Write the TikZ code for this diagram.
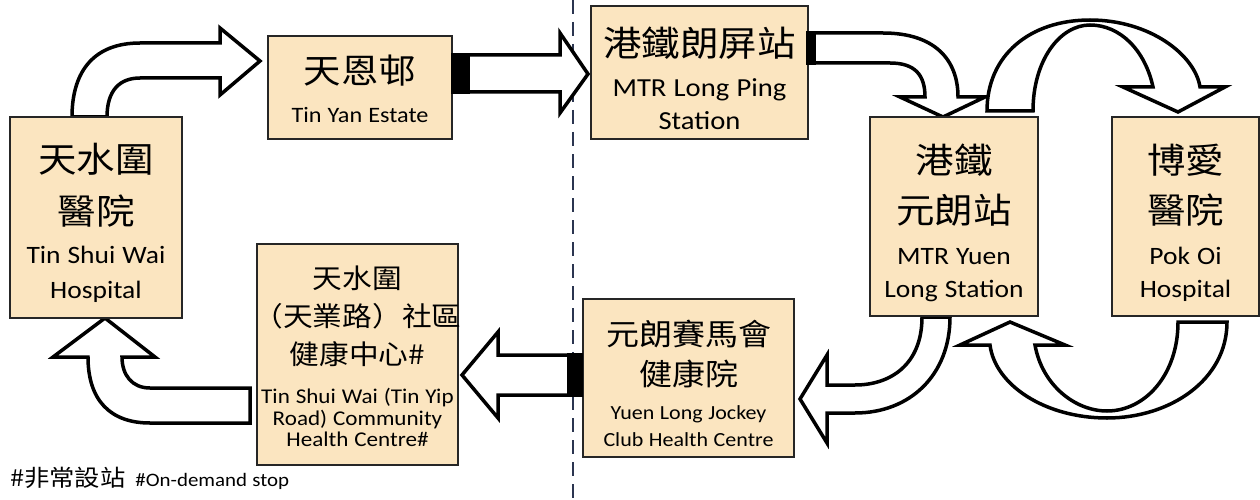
\documentclass[tikz,border=0pt]{standalone}
\usepackage{fontspec}
\setmainfont[FakeStretch=1.1]{Carlito}
\newfontfamily\cjk[FakeStretch=1.1]{Noto Sans CJK TC}
\setlength\parindent{0pt}
\setlength\parskip{0pt}
\definecolor{boxtan}{RGB}{251,229,192}
\definecolor{divider}{RGB}{43,53,80}
\tikzset{
  stopbox/.style={draw=black!85, line width=1.5pt, fill=boxtan, inner sep=0pt},
  blockarrow/.style={draw=black, fill=white, line width=3.5pt},
  stub/.style={fill=black}
}
\newcommand\zh[2]{\cjk\fontsize{#1}{#2}\selectfont}
\newcommand\en[2]{\rmfamily\fontsize{#1}{#2}\selectfont\spaceskip=.28em\relax}
\newcommand\row[1]{\makebox[\hsize][c]{#1}\par}
\newcommand\card[3]{\vbox{\hsize=#1pt\vskip#2pt\relax#3}}
\begin{document}
\begin{tikzpicture}[x=1pt,y=-1pt]
\useasboundingbox (0,0) rectangle (1260,500);
\fill[white] (0,0) rectangle (1260,500);
\draw[divider, line width=2.5pt, dash pattern=on 14pt off 8pt] (573,0) -- (573,500);

\draw[blockarrow] (72,117) .. controls (72,70) and (95,43) .. (140,43) -- (220,43) -- (220,28) -- (260,61) -- (220,95) -- (220,78) -- (140,78) .. controls (120,78) and (107,90) .. (107,117) -- cycle;
\draw[blockarrow] (451,55) -- (560,55) -- (560,33) -- (588,74) -- (560,113) -- (560,92) -- (451,92) -- cycle;
\draw[blockarrow] (808,33) -- (883,33) .. controls (935,33) and (958,60) .. (958,97) -- (985,97) -- (943,117) -- (900,97) -- (925,97) .. controls (925,75) and (915,63) .. (890,63) -- (808,63) -- cycle;
\draw[blockarrow] (987,111) .. controls (987,55) and (1030,20) .. (1090,20) .. controls (1150,20) and (1195,55) .. (1200,87) -- (1225,87) -- (1178,112) -- (1123,87) -- (1153,87) .. controls (1145,50) and (1120,25) .. (1090,25) .. controls (1060,25) and (1033,60) .. (1033,111) -- cycle;
\draw[blockarrow] (1178,322) -- (1227,322) .. controls (1227,380) and (1170,418) .. (1107,418) .. controls (1045,418) and (995,385) .. (990,345) -- (960,345) -- (1010,322) -- (1065,345) -- (1035,345) .. controls (1042,385) and (1075,411) .. (1107,411) .. controls (1145,411) and (1178,375) .. (1178,322) -- cycle;
\draw[blockarrow] (922,317) .. controls (922,365) and (890,385) .. (855,385) -- (827,385) -- (827,355) -- (800,399) -- (827,443) -- (827,413) -- (855,413) .. controls (910,413) and (950,375) .. (950,317) -- cycle;
\draw[blockarrow] (583,355) -- (498,355) -- (498,332) -- (462,375) -- (498,418) -- (498,395) -- (583,395) -- cycle;
\draw[blockarrow] (250,388) -- (150,388) .. controls (132,388) and (122,375) .. (122,357) -- (155,357) -- (105,318) -- (53,357) -- (88,357) .. controls (88,400) and (110,423) .. (150,423) -- (250,423) -- cycle;

\node[stopbox, minimum width=172pt, minimum height=201pt] (tswhosp) at (96,217.5)
  {\card{172}{11}{\zh{35}{52}\row{天水圍}\row{醫院}\en{25}{39}\row{Tin Shui Wai}\en{25}{35}\row{Hospital}}};
\node[stopbox, minimum width=184pt, minimum height=103pt] (tinyan) at (360,87.5)
  {\card{184}{2}{\zh{34}{40}\row{天恩邨}\en{22}{39}\row{Tin Yan Estate}}};
\node[stopbox, minimum width=217pt, minimum height=133pt] (longping) at (699.5,72.5)
  {\card{217}{12}{\zh{35}{40}\row{港鐵朗屏站}\en{26}{40}\row{MTR Long Ping}\en{26}{33}\row{Station}}};
\node[stopbox, minimum width=168pt, minimum height=199pt] (yuenlong) at (954,216.5)
  {\card{168}{13}{\zh{35}{50}\row{港鐵}\row{元朗站}\en{25}{41}\row{MTR Yuen}\en{25}{33}\row{Long Station}}};
\node[stopbox, minimum width=147pt, minimum height=199pt] (pokoi) at (1185.5,216.5)
  {\card{147}{13}{\zh{35}{50}\row{博愛}\row{醫院}\en{25}{41}\row{Pok Oi}\en{25}{33}\row{Hospital}}};
\node[stopbox, minimum width=211pt, minimum height=158pt] (ylclinic) at (688.5,378)
  {\card{211}{11}{\zh{30}{40}\row{元朗賽馬會}\row{健康院}\en{20}{34}\row{Yuen Long Jockey}\en{20}{27}\row{Club Health Centre}}};
\node[stopbox, minimum width=201pt, minimum height=221pt] (tswclinic) at (357.5,354.5)
  {\card{201}{4}{\zh{27}{38}\row{天水圍}\row{（天業路）社區}\row{健康中心\#}%
   \en{21}{39}\row{Tin Shui Wai (Tin Yip}\en{21}{21.5}\row{Road) Community}\row{Health Centre\#}}};

\fill[stub] (451,53) rectangle (470,94);
\fill[stub] (806,31) rectangle (816,65);
\fill[stub] (567,353) rectangle (583,397);

\node[anchor=base west, inner sep=0pt] (note) at (10,486)
  {\zh{23}{23}\#非常設站\hspace{10pt}\en{19}{19}\#On-demand stop};
\end{tikzpicture}
\end{document}
